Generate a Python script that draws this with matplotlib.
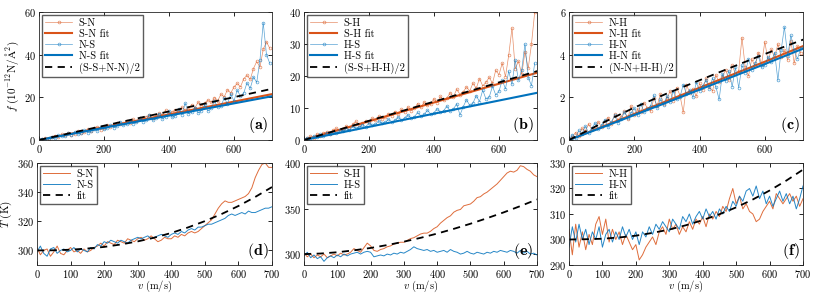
import numpy as np
import matplotlib
matplotlib.use("Agg")
import matplotlib.pyplot as plt

plt.rcParams['font.family'] = ['cmr10', 'DejaVu Serif']
plt.rcParams['mathtext.fontset'] = 'cm'
plt.rcParams['axes.formatter.use_mathtext'] = True
plt.rcParams['axes.unicode_minus'] = False

ORANGE = '#D95319'
BLUE = '#0072BD'

# ---------------- top row: force vs velocity ----------------
V_TOP = list(range(0, 720, 10))

A_SN = [0.0, 0.4, 0.9, 0.6, 1.5, 2.1, 1.3, 2.6, 2.2, 3.4,
        2.5, 2.9, 4.1, 3.3, 3.7, 5.0, 4.4, 5.6, 6.1, 4.9,
        5.8, 7.0, 6.3, 6.8, 8.2, 7.4, 7.9, 9.0, 8.1, 9.7,
        8.8, 10.4, 9.9, 10.9, 11.6, 10.3, 11.2, 12.6, 11.8, 13.9,
        12.4, 13.1, 14.2, 13.0, 15.3, 14.1, 14.8, 16.5, 15.1, 17.8,
        16.0, 17.2, 18.8, 17.6, 19.9, 18.4, 21.5, 20.2, 23.6, 22.0,
        24.8, 26.5, 24.9, 28.7, 30.3, 28.4, 33.5, 36.8, 34.2, 42.5,
        46.0, 43.0]
A_NS = [0.0, 0.7, 0.3, 1.1, 1.6, 0.8, 2.3, 1.7, 2.0, 3.1,
        2.4, 3.8, 2.7, 3.3, 4.6, 3.5, 4.0, 5.3, 4.2, 5.9,
        5.1, 5.5, 7.0, 5.8, 6.4, 8.6, 6.9, 7.3, 9.1, 7.7,
        8.3, 10.5, 8.6, 9.4, 11.8, 9.2, 10.1, 12.4, 9.8, 11.0,
        13.6, 10.6, 11.4, 14.5, 11.9, 17.3, 12.3, 13.0, 15.2, 12.7,
        13.8, 16.4, 13.6, 14.9, 18.2, 15.4, 16.1, 19.6, 17.0, 21.5,
        18.3, 23.4, 20.5, 22.0, 26.8, 24.2, 29.5, 27.0, 37.5, 55.0,
        40.0, 36.0]
FIT_V_TOP = [0, 720]
A_SN_FIT = [0.0, 21.6]
A_NS_FIT = [0.0, 20.6]
A_AVG = [0.0, 24.1]

B_SH = [0.0, 0.5, 1.1, 0.7, 1.9, 1.3, 2.2, 2.5, 1.9, 3.1,
        3.6, 2.9, 3.4, 4.3, 3.8, 4.9, 5.8, 4.6, 5.2, 6.0,
        5.5, 6.8, 6.1, 7.4, 6.6, 7.1, 8.2, 7.6, 8.9, 8.0,
        9.6, 8.7, 10.3, 9.2, 9.9, 11.4, 10.2, 11.9, 10.8, 11.3,
        12.9, 11.7, 13.6, 12.4, 13.1, 14.8, 13.5, 15.9, 14.2, 15.0,
        16.6, 15.3, 17.8, 16.1, 19.2, 16.9, 18.0, 19.6, 17.7, 21.8,
        20.4, 24.0, 19.8, 26.5, 35.0, 22.3, 24.6, 20.6, 27.5, 22.4,
        30.0, 40.0]
B_HS = [0.0, 0.7, 0.4, 1.3, 1.0, 1.8, 1.2, 2.3, 2.0, 2.6,
        2.2, 3.2, 2.9, 3.5, 3.1, 4.3, 3.6, 4.0, 4.8, 4.1,
        5.3, 4.6, 4.9, 6.0, 5.2, 5.5, 6.5, 5.7, 6.1, 7.2,
        6.3, 6.9, 7.9, 6.8, 7.3, 8.6, 7.5, 8.0, 9.3, 8.1,
        8.5, 9.8, 8.7, 9.2, 10.6, 9.0, 9.7, 11.3, 7.8, 10.4,
        12.6, 10.8, 11.5, 13.9, 12.0, 15.6, 12.8, 13.4, 16.8, 14.1,
        15.2, 18.7, 16.0, 21.5, 17.4, 25.0, 18.6, 22.0, 30.0, 19.5,
        17.0, 24.0]
B_SH_FIT = [0.0, 21.1]
B_HS_FIT = [0.0, 14.8]
B_AVG = [0.0, 21.6]

C_NH = [0.0, 0.15, 0.35, 0.2, 0.55, 0.4, 0.75, 0.5, 0.62, 0.85,
        0.6, 0.9, 1.05, 0.75, 1.2, 0.95, 1.1, 1.35, 1.0, 1.6,
        1.15, 1.45, 1.3, 1.75, 1.5, 1.35, 1.95, 1.6, 2.15, 1.7,
        1.95, 2.3, 1.85, 2.45, 2.1, 1.3, 2.6, 2.2, 2.4, 2.05,
        2.65, 2.35, 2.9, 2.5, 2.3, 3.05, 2.7, 2.95, 3.3, 2.8,
        3.5, 3.1, 3.25, 4.8, 3.4, 3.0, 3.8, 3.45, 4.1, 3.55,
        4.6, 3.7, 4.25, 3.85, 4.5, 3.9, 4.2, 3.75, 4.65, 3.6,
        4.4, 4.1]
C_HN = [0.0, 0.25, 0.1, 0.45, 0.3, 0.65, 0.35, 0.55, 0.8, 0.5,
        0.7, 0.95, 0.6, 0.85, 1.15, 0.8, 1.0, 1.3, 1.05, 1.25,
        1.5, 1.15, 1.7, 1.3, 1.45, 1.6, 2.1, 1.5, 1.9, 1.65,
        2.05, 1.8, 2.3, 1.9, 2.0, 2.6, 2.15, 2.35, 2.0, 2.7,
        2.3, 2.55, 2.8, 2.4, 2.9, 2.5, 1.9, 3.1, 2.75, 3.25,
        2.5, 3.4, 2.45, 3.5, 3.15, 3.8, 3.3, 3.6, 3.95, 3.4,
        3.5, 3.9, 3.65, 4.1, 2.8, 4.2, 5.3, 3.95, 4.9, 4.2,
        3.8, 4.3]
C_FIT_V = [0, 100, 200, 300, 400, 500, 600, 720]
C_NH_FIT = [0.0, 0.61, 1.22, 1.83, 2.45, 3.06, 3.67, 4.42]
C_HN_FIT = [0.0, 0.58, 1.17, 1.76, 2.36, 2.96, 3.56, 4.30]
C_AVG = [0.0, 0.78, 1.52, 2.18, 2.80, 3.42, 4.03, 4.72]

# ---------------- bottom row: temperature vs velocity ----------------
V_BOT = list(range(0, 710, 10))
V_FIT_BOT = list(range(0, 750, 50))

D_SN = [302, 297, 300, 301, 296, 299, 303, 298, 297, 300,
        302, 299, 300, 298, 301, 299, 300, 302, 303, 305,
        303, 306, 305, 304, 307, 306, 305, 308, 307, 306,
        308, 309, 307, 308, 310, 308, 306, 307, 309, 308,
        308, 310, 309, 311, 310, 312, 313, 312, 313, 315,
        317, 319, 321, 325, 329, 332, 334, 333, 333, 334,
        335, 336, 337, 339, 343, 350, 355, 359, 360, 357, 357]
D_NS = [299, 303, 298, 296, 301, 302, 298, 300, 301, 299,
        300, 302, 299, 301, 300, 299, 302, 301, 304, 303,
        306, 305, 307, 306, 305, 307, 306, 305, 307, 308,
        309, 308, 309, 310, 308, 309, 310, 311, 310, 309,
        311, 312, 311, 313, 312, 314, 315, 314, 316, 316,
        317, 318, 318, 319, 320, 321, 322, 324, 325, 324,
        325, 326, 325, 327, 326, 326, 327, 328, 329, 329, 330]
D_FIT = [300, 300.1, 300.5, 301.3, 302.4, 304.1, 306.2, 308.8, 312.0, 315.8, 320.1, 325.0, 330.5, 336.7, 343.5]

E_SH = [301, 297, 300, 296, 299, 297, 300, 296, 298, 300,
        298, 301, 299, 300, 302, 306, 304, 302, 307, 312,
        309, 304, 303, 305, 306, 308, 309, 311, 312, 313,
        313, 315, 317, 318, 320, 322, 323, 323, 325, 328,
        330, 334, 337, 340, 342, 346, 348, 349, 353, 354,
        355, 358, 362, 363, 366, 368, 371, 374, 377, 381,
        385, 389, 391, 390, 392, 397, 396, 393, 391, 387, 385]
E_HS = [298, 302, 296, 299, 295, 297, 292, 296, 298, 296,
        299, 297, 300, 298, 300, 301, 302, 300, 302, 303,
        302, 297, 298, 299, 298, 300, 299, 301, 300, 302,
        301, 303, 305, 308, 306, 305, 304, 305, 303, 304,
        302, 303, 304, 302, 305, 303, 302, 300, 301, 303,
        301, 300, 302, 301, 300, 302, 301, 303, 302, 304,
        303, 302, 304, 303, 301, 304, 301, 303, 300, 301, 299]
E_FIT = [300, 300.6, 302.0, 304.1, 306.7, 309.9, 313.6, 317.8, 322.5, 327.7, 333.3, 339.4, 345.8, 352.7, 360.0]

F_NH = [304, 294, 306, 297, 303, 296, 302, 298, 306, 309,
        302, 308, 299, 304, 300, 303, 298, 302, 299, 296,
        298, 292, 294, 297, 299, 301, 298, 303, 305, 302,
        308, 304, 306, 302, 305, 303, 307, 304, 308, 306,
        309, 305, 310, 308, 311, 309, 313, 311, 316, 320,
        314, 317, 312, 314, 311, 310, 307, 308, 311, 313,
        315, 312, 318, 316, 314, 316, 318, 315, 317, 313, 316]
F_HN = [297, 305, 299, 306, 300, 304, 298, 303, 300, 305,
        297, 302, 304, 299, 303, 300, 305, 301, 304, 300,
        303, 298, 303, 301, 305, 302, 306, 304, 307, 305,
        303, 308, 306, 304, 309, 307, 310, 306, 309, 311,
        308, 312, 309, 311, 308, 312, 310, 313, 311, 315,
        313, 317, 315, 319, 320, 317, 321, 316, 319, 314,
        317, 313, 316, 319, 315, 318, 314, 317, 312, 316, 321]
F_FIT = [300, 300.1, 300.3, 300.8, 301.5, 302.6, 303.9, 305.6, 307.6, 309.9, 312.6, 315.7, 319.2, 323.1, 327.4]

W, H = 831, 294
fig = plt.figure(figsize=(W / 100, H / 100), dpi=100)


def ax_at(l, t, r, b):
    return fig.add_axes([l / W, 1 - b / H, (r - l) / W, (b - t) / H])


def style(ax):
    ax.tick_params(direction='in', top=True, right=True, labelsize=7.5, length=3, width=0.6, pad=2)
    for s in ax.spines.values():
        s.set_linewidth(0.6)
        s.set_color('#262626')


def legend(ax, fs=7.5):
    lg = ax.legend(loc='upper left', fontsize=fs, frameon=True, fancybox=False, borderaxespad=0.3,
                   handlelength=2.6, borderpad=0.3, labelspacing=0.15, handletextpad=0.6)
    lg.get_frame().set_edgecolor('#333333')
    lg.get_frame().set_linewidth(1.0)
    return lg


def panel_label(ax, s):
    ax.text(0.985, 0.04, r'$\mathbf{(%s)}$' % s, transform=ax.transAxes, ha='right', va='bottom',
            fontsize=11.5, zorder=10)


dkw = dict(lw=0.5, marker='o', ms=2.0, mfc='none', mew=0.5, alpha=0.65)

tops = [
    ((39, 12, 272, 140), A_SN, A_NS, FIT_V_TOP, A_SN_FIT, A_NS_FIT, A_AVG,
     ['S-N', 'S-N fit', 'N-S', 'N-S fit', '(S-S+N-N)/2'], (0, 60), [0, 20, 40, 60], 'a'),
    ((304, 12, 537, 140), B_SH, B_HS, FIT_V_TOP, B_SH_FIT, B_HS_FIT, B_AVG,
     ['S-H', 'S-H fit', 'H-S', 'H-S fit', '(S-S+H-H)/2'], (0, 40), [0, 10, 20, 30, 40], 'b'),
    ((569, 12, 803, 140), C_NH, C_HN, C_FIT_V, C_NH_FIT, C_HN_FIT, C_AVG,
     ['N-H', 'N-H fit', 'H-N', 'H-N fit', '(N-N+H-H)/2'], (0, 6), [0, 2, 4, 6], 'c'),
]

for box, d1, d2, fv, f1, f2, avg, labs, ylim, yt, pl in tops:
    ax = ax_at(*box)
    ax.plot(V_TOP, d1, color=ORANGE, label=labs[0], **dkw)
    ax.plot(fv, f1, color=ORANGE, lw=1.5, label=labs[1])
    ax.plot(V_TOP, d2, color=BLUE, label=labs[2], **dkw)
    ax.plot(fv, f2, color=BLUE, lw=1.5, label=labs[3])
    ax.plot(fv, avg, color='black', lw=1.3, ls=(0, (4, 3)), label=labs[4])
    ax.set_xlim(0, 717)
    ax.set_ylim(*ylim)
    ax.set_xticks([0, 200, 400, 600])
    ax.set_yticks(yt)
    style(ax)
    legend(ax)
    panel_label(ax, pl)
    if pl == 'a':
        ax.set_ylabel(r'$f\ (10^{-12}\mathrm{N}/\mathrm{\AA}^2)$', fontsize=8, labelpad=2)

bots = [
    ((37, 163, 272, 265), D_SN, D_NS, D_FIT, ['S-N', 'N-S'], (290, 360), [300, 320, 340, 360], 'd'),
    ((304, 163, 537, 265), E_SH, E_HS, E_FIT, ['S-H', 'H-S'], (288, 400), [300, 350, 400], 'e'),
    ((569, 163, 803, 265), F_NH, F_HN, F_FIT, ['N-H', 'H-N'], (290, 330), [290, 300, 310, 320, 330], 'f'),
]

for box, d1, d2, fit, labs, ylim, yt, pl in bots:
    ax = ax_at(*box)
    ax.plot(V_BOT, d1, color=ORANGE, lw=0.7, alpha=0.85, label=labs[0])
    ax.plot(V_BOT, d2, color=BLUE, lw=0.7, alpha=0.85, label=labs[1])
    ax.plot(V_FIT_BOT, fit, color='black', lw=1.3, ls=(0, (4, 3)), label='fit')
    ax.set_xlim(0, 700)
    ax.set_ylim(*ylim)
    ax.set_xticks(range(0, 701, 100))
    ax.set_yticks(yt)
    style(ax)
    legend(ax)
    panel_label(ax, pl)
    ax.set_xlabel(r'$v\ (\mathrm{m/s})$', fontsize=7.5, labelpad=-0.5)
    if pl == 'd':
        ax.set_ylabel(r'$T\ (\mathrm{K})$', fontsize=8, labelpad=2)

fig.savefig('out.png', dpi=100)
